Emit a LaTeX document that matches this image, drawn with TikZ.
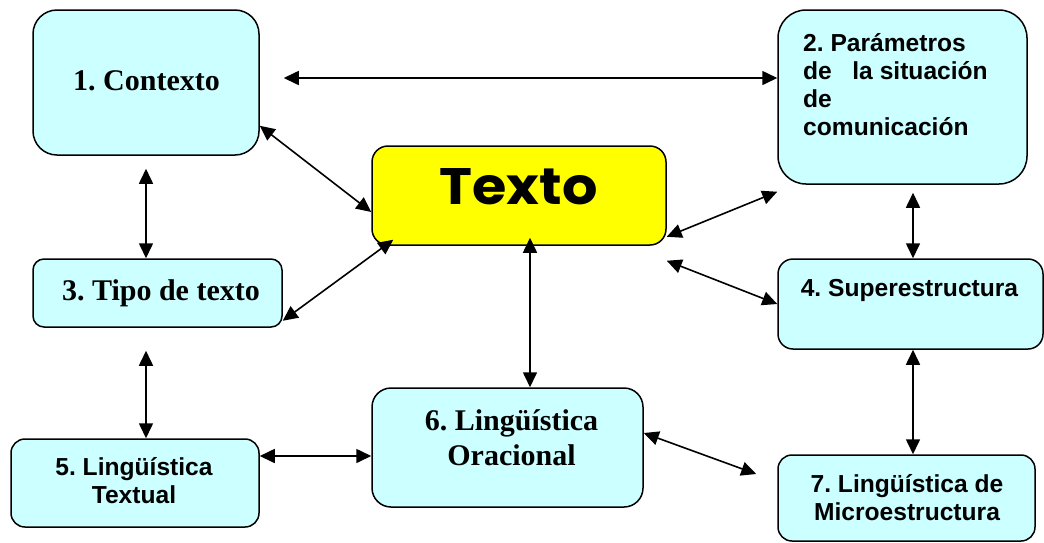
\documentclass[tikz,border=0pt]{standalone}
\usepackage{fontspec}
\setmainfont{Liberation Serif}
\newfontfamily\arialf{Liberation Sans}
\newfontfamily\decof{Poppins}
\usetikzlibrary{arrows.meta}
\definecolor{boxcyan}{HTML}{CCFFFF}
\definecolor{boxyellow}{HTML}{FFFF00}
\frenchspacing
\begin{document}
\begin{tikzpicture}[x=1pt,y=-1pt,
  box/.style={draw=black, line width=1.5pt, fill=boxcyan, inner sep=0pt, rectangle},
  dbl/.style={{Triangle[length=15pt,width=14pt]}-{Triangle[length=15pt,width=14pt]}, line width=1.6pt},
  serifbold/.style={font=\bfseries\fontsize{30}{35}\selectfont, inner sep=0pt},
  sansbold/.style={font=\arialf\bfseries\fontsize{24.6}{27.7}\selectfont, inner sep=0pt}]
\useasboundingbox (0,0) rectangle (1044,542);
% boxes
\node[box, minimum width=226pt, minimum height=145pt, rounded corners=24pt] (b1) at (146,82.5) {};
\node[box, minimum width=249pt, minimum height=174pt, rounded corners=28pt] (b2) at (902.5,97) {};
\node[box, minimum width=249pt, minimum height=68pt, rounded corners=11pt] (b3) at (157.5,293) {};
\node[box, minimum width=265pt, minimum height=90pt, rounded corners=15pt] (b4) at (910.5,304) {};
\node[box, minimum width=248pt, minimum height=88pt, rounded corners=14pt] (b5) at (135,483) {};
\node[box, minimum width=271pt, minimum height=119pt, rounded corners=19pt] (b6) at (507.5,447.5) {};
\node[box, minimum width=257pt, minimum height=86pt, rounded corners=14pt] (b7) at (906.5,498) {};
\node[box, fill=boxyellow, minimum width=294pt, minimum height=99pt, rounded corners=16pt] (tx) at (519,195.5) {};
% texts
\node[serifbold, anchor=base] (l1) at (146.5,90) {1. Contexto};
\node[sansbold, anchor=base west, align=left] (l2) at (803,135) {2. Parámetros\\de\ \ \ la situación\\de\\comunicación};
\node[serifbold, anchor=base] (l3) at (161,300) {3. Tipo de texto};
\node[sansbold, anchor=base] (l4) at (909.5,296) {4. Superestructura};
\node[sansbold, anchor=base, align=center] (l5) at (134,503) {5. Lingüística\\Textual};
\node[serifbold, anchor=base, align=center] (l6) at (511.5,465) {6. Lingüística\\Oracional};
\node[sansbold, anchor=base, align=center] (l7) at (907,520) {7. Lingüística de\\Microestructura};
\node[inner sep=0pt] (lt) at (518.5,187) {\resizebox{158pt}{36pt}{\decof\bfseries Texto}};
% connectors
\draw[dbl, shorten <=24pt] ([yshift=4.5pt]b1.east) -- ([yshift=4.5pt]b1.east -| b2.west);
\draw[dbl] ([yshift=30pt]b1.south east) -- ([yshift=-16.5pt]tx.west);
\draw[dbl, shorten <=13pt] (b1.south) -- (b1.south |- b3.north);
\draw[dbl] ([shift={(22pt,6pt)}]tx.south west) -- ([yshift=7pt]b3.south east);
\draw[dbl] ([xshift=11pt,yshift=8pt]tx.south) -- ([xshift=11pt]tx.south |- b6.north);
\draw[dbl, shorten <=23pt] (b1.south |- b3.south) -- (b1.south |- b5.north);
\draw[dbl] ([yshift=27pt]b5.east) -- ([yshift=27pt]b5.east -| b6.west);
\draw[dbl] ([yshift=14.5pt]b6.east) -- ([shift={(-21pt,24pt)}]b7.west);
\draw[dbl] ([yshift=9pt]tx.south east) -- ([yshift=-7pt]b2.south west);
\draw[dbl] ([yshift=-15pt]tx.south east) -- (b4.west);
\draw[dbl, shorten <=8pt] ([xshift=10.5pt]b2.south) -- ([xshift=10.5pt]b2.south |- b4.north);
\draw[dbl] ([xshift=2.5pt]b4.south) -- ([xshift=2.5pt]b4.south |- b7.north);
\end{tikzpicture}
\end{document}
